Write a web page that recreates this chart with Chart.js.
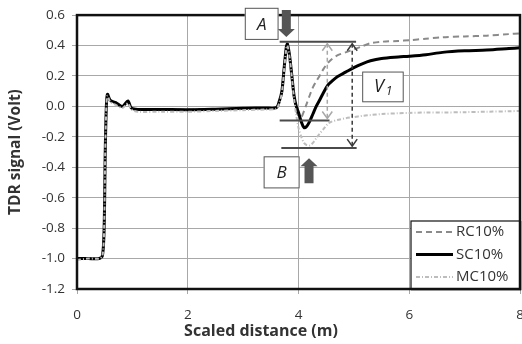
<!DOCTYPE html>
<html>
<head>
<meta charset="utf-8">
<script src="https://cdn.jsdelivr.net/npm/chart.js@4.4.1/dist/chart.umd.min.js"></script>
<style>
  body { margin: 0; background: #fff; }
  #wrap { width: 522px; height: 344px; }
</style>
</head>
<body>
<div id="wrap"><canvas id="tdrChart"></canvas></div>
<script>
// scaled distance (m), shared by the three traces
const distance = [0, 0.2, 0.4, 0.46, 0.49, 0.51, 0.53, 0.55, 0.6, 0.7,
  0.82, 0.92, 0.98, 1.1, 1.5, 2.0, 2.5, 3.0, 3.4, 3.6,
  3.65, 3.7, 3.74, 3.78, 3.8, 3.84, 3.88, 3.92, 3.96, 4.0,
  4.05, 4.1, 4.15, 4.2, 4.26, 4.32, 4.38, 4.45, 4.53, 4.6,
  4.7, 4.85, 5.0, 5.15, 5.3, 5.5, 5.8, 6.0, 6.3, 6.6,
  7.0, 7.4, 7.8, 8.0];

// TDR signal (Volt)
const rc10 = [-1.0, -1.0, -1.0, -0.98, -0.8, -0.3, 0.0, 0.075, 0.035, 0.02,
  -0.005, 0.03, -0.01, -0.02, -0.02, -0.02, -0.018, -0.012, -0.01, -0.008,
  0.03, 0.1, 0.25, 0.39, 0.41, 0.33, 0.2, 0.06, -0.03, -0.06,
  -0.07, -0.03, 0.02, 0.07, 0.125, 0.165, 0.2, 0.245, 0.285, 0.31,
  0.335, 0.355, 0.375, 0.395, 0.415, 0.425, 0.43, 0.435, 0.445, 0.455,
  0.46, 0.465, 0.475, 0.48];

const sc10 = [-1.0, -1.0, -1.0, -0.98, -0.8, -0.3, 0.0, 0.08, 0.04, 0.025,
  0.0, 0.035, -0.01, -0.02, -0.02, -0.022, -0.018, -0.012, -0.01, -0.008,
  0.03, 0.1, 0.25, 0.39, 0.41, 0.33, 0.2, 0.07, 0.0, -0.04,
  -0.1, -0.14, -0.13, -0.1, -0.05, 0.0, 0.04, 0.09, 0.14, 0.165,
  0.195, 0.225, 0.255, 0.28, 0.3, 0.315, 0.325, 0.33, 0.34, 0.355,
  0.365, 0.37, 0.38, 0.385];

const mc10 = [-1.01, -1.0, -1.0, -0.98, -0.8, -0.3, 0.0, 0.07, 0.03, 0.01,
  -0.01, 0.02, -0.02, -0.035, -0.035, -0.035, -0.03, -0.025, -0.02, -0.015,
  0.02, 0.09, 0.24, 0.38, 0.40, 0.32, 0.19, 0.05, -0.06, -0.14,
  -0.2, -0.24, -0.255, -0.257, -0.24, -0.21, -0.18, -0.15, -0.115, -0.1,
  -0.09, -0.078, -0.07, -0.062, -0.057, -0.05, -0.045, -0.043, -0.04, -0.04,
  -0.038, -0.035, -0.032, -0.03];

const seriesNames = ['RC10%', 'SC10%', 'MC10%'];
const xTitle = 'Scaled distance (m)';
const yTitle = 'TDR signal (Volt)';

const FONT = '"Open Sans", Lato, sans-serif';

function toPoints(ys) {
    return distance.map((x, i) => ({ x: x, y: ys[i] }));
}

const styles = [
    { color: '#8a8a8a', width: 2, dash: [6, 4] },
    { color: '#000000', width: 3, dash: [] },
    { color: '#bdbdbd', width: 2, dash: [4, 2, 1, 2] }
];

// annotations in data units (x = m, y = V)
const notes = {
    boxA: { x0: 3.03, x1: 3.64, y0: 0.648, y1: 0.437, text: 'A' },
    boxB: { x0: 3.37, x1: 4.02, y0: -0.328, y1: -0.539, text: 'B' },
    boxV: { x0: 5.15, x1: 5.90, y0: 0.229, y1: 0.027 },
    arrowA: { x: 3.78, from: 0.633, to: 0.456 },
    arrowB: { x: 4.19, from: -0.505, to: -0.341 },
    levels: [
        { y: 0.425, x0: 3.66, x1: 5.04 },
        { y: -0.093, x0: 3.66, x1: 4.56 },
        { y: -0.274, x0: 3.69, x1: 5.05 }
    ],
    spans: [
        { x: 4.52, y0: 0.425, y1: -0.093, color: '#a8a8a8' },
        { x: 4.97, y0: 0.425, y1: -0.274, color: '#3a3a3a' }
    ]
};

function blockArrow(ctx, x, yTail, yTip) {
    const dir = yTip > yTail ? 1 : -1;
    const headLen = 8, shaftW = 4.5, headW = 8.5;
    const yBase = yTip - dir * headLen;
    ctx.beginPath();
    ctx.moveTo(x - shaftW, yTail);
    ctx.lineTo(x + shaftW, yTail);
    ctx.lineTo(x + shaftW, yBase);
    ctx.lineTo(x + headW, yBase);
    ctx.lineTo(x, yTip);
    ctx.lineTo(x - headW, yBase);
    ctx.lineTo(x - shaftW, yBase);
    ctx.closePath();
    ctx.fillStyle = '#555555';
    ctx.fill();
}

function arrowHead(ctx, x, y, dir) {
    ctx.beginPath();
    ctx.moveTo(x - 5, y - dir * 7);
    ctx.lineTo(x, y);
    ctx.lineTo(x + 5, y - dir * 7);
    ctx.stroke();
}

const annotatePlugin = {
    id: 'annotate',
    afterDraw(chart) {
        const ctx = chart.ctx;
        const xs = chart.scales.x, ys = chart.scales.y;
        const area = chart.chartArea;
        const px = v => xs.getPixelForValue(v);
        const py = v => ys.getPixelForValue(v);
        ctx.save();

        // plot frame
        ctx.strokeStyle = '#111';
        ctx.lineWidth = 2.5;
        ctx.strokeRect(area.left, area.top, area.right - area.left, area.bottom - area.top);

        // x axis title, centred on the whole chart like the original
        ctx.fillStyle = '#333';
        ctx.font = 'bold 16px ' + FONT;
        ctx.textAlign = 'center';
        ctx.textBaseline = 'middle';
        ctx.fillText(xTitle, chart.width / 2, 331);

        // level lines
        ctx.strokeStyle = '#4a4a4a';
        ctx.lineWidth = 2;
        notes.levels.forEach(l => {
            ctx.beginPath();
            ctx.moveTo(px(l.x0), py(l.y));
            ctx.lineTo(px(l.x1), py(l.y));
            ctx.stroke();
        });

        // dashed double arrows
        notes.spans.forEach(s => {
            const x = px(s.x), ya = py(s.y0) + 2, yb = py(s.y1) - 2;
            ctx.strokeStyle = s.color;
            ctx.lineWidth = 1.5;
            ctx.setLineDash([4, 3]);
            ctx.beginPath();
            ctx.moveTo(x, ya);
            ctx.lineTo(x, yb);
            ctx.stroke();
            ctx.setLineDash([]);
            arrowHead(ctx, x, ya, -1);
            arrowHead(ctx, x, yb, 1);
        });

        // labelled boxes
        [notes.boxA, notes.boxB, notes.boxV].forEach(b => {
            const x0 = px(b.x0), x1 = px(b.x1), y0 = py(b.y0), y1 = py(b.y1);
            ctx.fillStyle = '#fff';
            ctx.fillRect(x0, y0, x1 - x0, y1 - y0);
            ctx.strokeStyle = '#555';
            ctx.lineWidth = 1;
            ctx.strokeRect(x0 + 0.5, y0 + 0.5, x1 - x0 - 1, y1 - y0 - 1);
        });
        ctx.fillStyle = '#222';
        ctx.font = 'italic 17px ' + FONT;
        [notes.boxA, notes.boxB].forEach(b => {
            ctx.fillText(b.text, (px(b.x0) + px(b.x1)) / 2, (py(b.y0) + py(b.y1)) / 2 + 1);
        });
        const vb = notes.boxV;
        const vcx = (px(vb.x0) + px(vb.x1)) / 2, vcy = (py(vb.y0) + py(vb.y1)) / 2;
        ctx.font = 'italic 18px ' + FONT;
        ctx.fillText('V', vcx - 4, vcy);
        ctx.font = 'italic 12px ' + FONT;
        ctx.fillText('1', vcx + 6, vcy + 5);

        // block arrows
        blockArrow(ctx, px(notes.arrowA.x), py(notes.arrowA.from), py(notes.arrowA.to));
        blockArrow(ctx, px(notes.arrowB.x), py(notes.arrowB.from), py(notes.arrowB.to));

        // legend box in the lower right corner
        const lw = 109, lh = 68;
        const lx = area.right - lw, ly = area.bottom - lh;
        ctx.fillStyle = '#fff';
        ctx.fillRect(lx, ly, lw, lh);
        ctx.strokeStyle = '#111';
        ctx.lineWidth = 1.2;
        ctx.strokeRect(lx, ly, lw, lh);
        ctx.strokeStyle = '#111';
        ctx.lineWidth = 2.5;
        ctx.beginPath();
        ctx.moveTo(lx, area.bottom);
        ctx.lineTo(area.right, area.bottom);
        ctx.lineTo(area.right, ly);
        ctx.stroke();
        ctx.font = '15px ' + FONT;
        ctx.textAlign = 'left';
        seriesNames.forEach((name, i) => {
            const yy = ly + 11 + i * 22.5;
            const st = styles[i];
            ctx.strokeStyle = st.color;
            ctx.lineWidth = st.width;
            ctx.setLineDash(st.dash);
            ctx.beginPath();
            ctx.moveTo(lx + 5, yy);
            ctx.lineTo(lx + 42, yy);
            ctx.stroke();
            ctx.setLineDash([]);
            ctx.fillStyle = '#333';
            ctx.fillText(name, lx + 45, yy);
        });
        ctx.restore();
    }
};

const ctx = document.getElementById('tdrChart').getContext('2d');
new Chart(ctx, {
    type: 'line',
    data: {
        datasets: [rc10, sc10, mc10].map((ys, i) => ({
            label: seriesNames[i],
            data: toPoints(ys),
            borderColor: styles[i].color,
            borderWidth: styles[i].width,
            borderDash: styles[i].dash,
            pointRadius: 0,
            tension: 0.3,
            fill: false
        })).reverse()
    },
    options: {
        responsive: true,
        maintainAspectRatio: false,
        animation: false,
        layout: { padding: { top: 14, right: 2, left: 0, bottom: 0 } },
        plugins: { legend: { display: false }, tooltip: { enabled: false } },
        scales: {
            x: {
                type: 'linear',
                min: 0, max: 8,
                ticks: { stepSize: 2, color: '#333', font: { family: FONT, size: 13.5 }, padding: 13 },
                grid: { color: '#a8a8a8', tickLength: 5 },
                border: { display: false },
                afterFit: s => { s.height = 55; s.paddingLeft = 0; s.paddingRight = 0; }
            },
            y: {
                min: -1.2, max: 0.6,
                ticks: { stepSize: 0.2, color: '#333', font: { family: FONT, size: 13.5 }, padding: 7,
                    callback: v => (Math.abs(v) < 1e-9 ? 0 : v).toFixed(1) },
                grid: { color: '#a8a8a8', tickLength: 5 },
                border: { display: false },
                title: { display: true, text: yTitle, color: '#333',
                    font: { family: FONT, size: 15.5, weight: 'bold' }, padding: { top: 6, bottom: 0 } },
                afterFit: s => { s.width = 77; }
            }
        }
    },
    plugins: [annotatePlugin]
});
</script>
</body>
</html>
